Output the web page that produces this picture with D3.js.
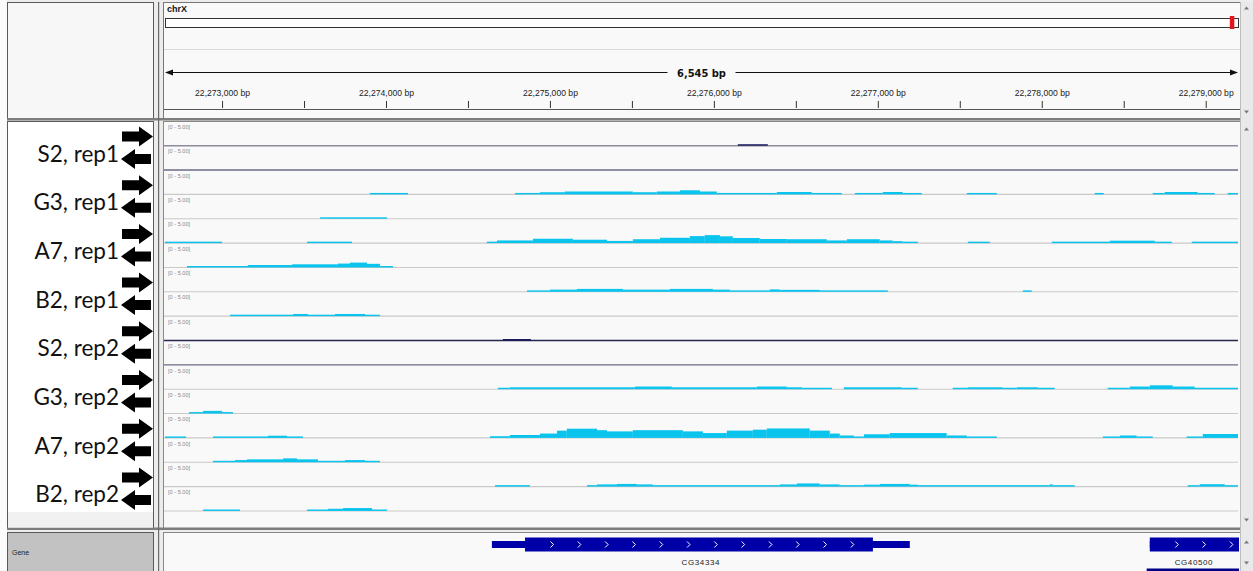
<!DOCTYPE html>
<html>
<head>
<meta charset="utf-8">
<script src="https://cdn.jsdelivr.net/npm/d3@7"></script>
<style>
  body { margin: 0; background: #fff; }
  svg { display: block; font-family: "Liberation Sans", Arial, sans-serif; }
</style>
</head>
<body>
<div id="igv"></div>
<script>
// locus shown and ruler
var chrName = "chrX";
var chrXLength = 22422827;
var viewStart = 22272652, viewEnd = 22279197;
var rulerTicks = [22273000, 22274000, 22275000, 22276000, 22277000, 22278000, 22279000];
var dataRange = [0, 5];

var samples = ["S2, rep1", "G3, rep1", "A7, rep1", "B2, rep1", "S2, rep2", "G3, rep2", "A7, rep2", "B2, rep2"];

// coverage, [start, end, value]
var s2r1Plus = [[22276146, 22276329, 0.3]];
var s2r1Minus = [];
var g3r1Plus = [
  [22273902, 22274134, 0.3], [22274787, 22274939, 0.3], [22274939, 22275091, 0.45],
  [22275091, 22275506, 0.6], [22275506, 22275652, 0.45], [22275652, 22275793, 0.6],
  [22275793, 22275915, 0.85], [22275915, 22276018, 0.6], [22276018, 22276384, 0.3],
  [22276384, 22276597, 0.5], [22276597, 22276780, 0.3], [22276860, 22277030, 0.3],
  [22277030, 22277152, 0.5], [22277152, 22277268, 0.3], [22277543, 22277726, 0.3],
  [22278323, 22278378, 0.3], [22278677, 22278750, 0.3], [22278750, 22278951, 0.5],
  [22278951, 22279055, 0.3], [22279134, 22279197, 0.3]
];
var g3r1Minus = [[22273598, 22274006, 0.3]];
var a7r1Plus = [
  [22272652, 22273000, 0.3], [22273518, 22273792, 0.3], [22274615, 22274677, 0.3],
  [22274677, 22274896, 0.55], [22274896, 22275140, 0.9], [22275140, 22275348, 0.7],
  [22275348, 22275506, 0.45], [22275506, 22275671, 0.8], [22275671, 22275854, 1.1],
  [22275854, 22275945, 1.45], [22275945, 22276037, 1.65], [22276037, 22276116, 1.4],
  [22276116, 22276280, 1.05], [22276280, 22276445, 0.85], [22276445, 22276689, 0.8],
  [22276689, 22276811, 0.55], [22276811, 22277012, 0.8], [22277012, 22277091, 0.55],
  [22277091, 22277152, 0.4], [22277152, 22277244, 0.3], [22277549, 22277683, 0.3],
  [22278061, 22278415, 0.3], [22278415, 22278689, 0.5], [22278689, 22278793, 0.3],
  [22278915, 22279197, 0.3]
];
var a7r1Minus = [
  [22272786, 22273158, 0.3], [22273158, 22273427, 0.5], [22273427, 22273707, 0.65],
  [22273707, 22273780, 0.8], [22273780, 22273884, 1.0], [22273884, 22273963, 0.75],
  [22273963, 22274043, 0.3]
];
var b2r1Plus = [
  [22274860, 22275000, 0.3], [22275000, 22275165, 0.45], [22275165, 22275445, 0.6],
  [22275445, 22275732, 0.45], [22275732, 22275994, 0.6], [22275994, 22276098, 0.45],
  [22276098, 22276341, 0.3], [22276341, 22276402, 0.5], [22276402, 22276646, 0.4],
  [22276646, 22277061, 0.3], [22277884, 22277939, 0.3]
];
var b2r1Minus = [
  [22273049, 22273433, 0.3], [22273433, 22273524, 0.45], [22273524, 22273689, 0.3],
  [22273689, 22273872, 0.45], [22273872, 22273963, 0.3]
];
var s2r2Plus = [[22274713, 22274884, 0.3]];
var s2r2Minus = [];
var g3r2Plus = [
  [22274683, 22274756, 0.3], [22274756, 22275518, 0.4], [22275518, 22275744, 0.55],
  [22275744, 22276262, 0.4], [22276262, 22276445, 0.55], [22276445, 22276537, 0.4],
  [22276537, 22276720, 0.3], [22276793, 22277146, 0.4], [22277146, 22277244, 0.3],
  [22277457, 22277549, 0.3], [22277549, 22277762, 0.4], [22277762, 22277848, 0.3],
  [22277848, 22277976, 0.4], [22277976, 22278079, 0.3], [22278402, 22278537, 0.3],
  [22278537, 22278659, 0.55], [22278659, 22278799, 0.8], [22278799, 22278933, 0.55],
  [22278933, 22279197, 0.3]
];
var g3r2Minus = [[22272798, 22272884, 0.3], [22272884, 22273000, 0.55], [22273000, 22273067, 0.3]];
var a7r2Plus = [
  [22272652, 22272780, 0.3], [22272945, 22273280, 0.3], [22273280, 22273396, 0.45],
  [22273396, 22273494, 0.3], [22274634, 22274756, 0.35], [22274756, 22274939, 0.6],
  [22274939, 22275043, 0.9], [22275043, 22275103, 1.5], [22275103, 22275287, 1.9],
  [22275287, 22275348, 1.6], [22275348, 22275506, 1.35], [22275506, 22275811, 1.6],
  [22275811, 22275933, 1.35], [22275933, 22276079, 1.0], [22276079, 22276238, 1.5],
  [22276238, 22276323, 1.7], [22276323, 22276585, 1.95], [22276585, 22276707, 1.5],
  [22276707, 22276768, 0.9], [22276768, 22276854, 0.5], [22276854, 22276915, 0.3],
  [22276915, 22277073, 0.75], [22277073, 22277420, 1.0], [22277420, 22277543, 0.5],
  [22277543, 22277726, 0.3], [22278372, 22278476, 0.3], [22278476, 22278579, 0.5],
  [22278579, 22278677, 0.3], [22278884, 22278982, 0.3], [22278982, 22279197, 0.8]
];
var a7r2Minus = [
  [22272945, 22273079, 0.3], [22273079, 22273152, 0.45], [22273152, 22273372, 0.6],
  [22273372, 22273457, 0.8], [22273457, 22273585, 0.6], [22273585, 22273750, 0.3],
  [22273750, 22273872, 0.45], [22273872, 22273963, 0.3]
];
var b2r2Plus = [
  [22274665, 22274878, 0.3], [22275226, 22275287, 0.3], [22275287, 22275409, 0.45],
  [22275409, 22275530, 0.55], [22275530, 22275628, 0.45], [22275628, 22276402, 0.3],
  [22276402, 22276506, 0.45], [22276506, 22276646, 0.65], [22276646, 22276768, 0.45],
  [22276768, 22276915, 0.3], [22276915, 22277012, 0.4], [22277012, 22277195, 0.55],
  [22277195, 22277244, 0.4], [22277244, 22278049, 0.3], [22278049, 22278067, 0.45],
  [22278067, 22278201, 0.3], [22278890, 22278963, 0.3], [22278963, 22279116, 0.5],
  [22279116, 22279197, 0.3]
];
var b2r2Minus = [
  [22272884, 22273110, 0.3], [22273518, 22273646, 0.3], [22273646, 22273738, 0.45],
  [22273738, 22273915, 0.6], [22273915, 22274006, 0.3]
];

// gene annotation
var geneNames = ["CG34334", "CG40500"];
var geneStarts = [22274646, 22278659];
var geneEnds = [22277195, 22279400];
var cdsStarts = [22274848, 22278659];
var cdsEnds = [22276970, 22279400];
var geneRow2Start = 22278640;

var tracks = [s2r1Plus, s2r1Minus, g3r1Plus, g3r1Minus, a7r1Plus, a7r1Minus, b2r1Plus, b2r1Minus,
  s2r2Plus, s2r2Minus, g3r2Plus, g3r2Minus, a7r2Plus, a7r2Minus, b2r2Plus, b2r2Minus];

var W = 1253, H = 571;
var dataLeft = 165, dataRight = 1238;
var trackTop0 = 121.5, trackStep = 24.35, trackH = 24.2;

var svg = d3.select("#igv").append("svg").attr("width", W).attr("height", H);

var x = d3.scaleLinear().domain([viewStart, viewEnd]).range([dataLeft, dataRight]);

// frame / panels
svg.append("rect").attr("width", W).attr("height", H).attr("fill", "#ececec");
svg.append("rect").attr("x", 0).attr("y", 0).attr("width", 7).attr("height", H).attr("fill", "#fbfbfb");

function panel(x0, y0, w, h, fill, stroke) {
  svg.append("rect").attr("x", x0 + 0.5).attr("y", y0 + 0.5).attr("width", w).attr("height", h)
    .attr("fill", fill).attr("stroke", stroke).attr("stroke-width", 1);
}
panel(7, 2, 146, 117, "#f7f7f7", "#5a5a5a");
panel(163, 2, 1077, 117, "#f9f9f9", "#777");
panel(7, 121, 146, 407, "#ffffff", "#5a5a5a");
panel(163, 121, 1077, 407, "#f9f9f9", "#888");
panel(7, 532, 146, 42, "#c2c2c2", "#5a5a5a");
panel(163, 532, 1077, 42, "#f9f9f9", "#888");

// heavy separators
svg.append("rect").attr("x", 7).attr("y", 118).attr("width", 1233).attr("height", 2.5).attr("fill", "#7d7d7d");
svg.append("rect").attr("x", 7).attr("y", 527.5).attr("width", 1233).attr("height", 2.5).attr("fill", "#7d7d7d");
svg.append("rect").attr("x", 158).attr("y", 2).attr("width", 1.2).attr("height", H).attr("fill", "#6a6a6a");

// scrollbar
svg.append("rect").attr("x", 1240).attr("y", 2).attr("width", 13).attr("height", H).attr("fill", "#e9e9e9");
svg.append("line").attr("x1", 1240.5).attr("x2", 1240.5).attr("y1", 2).attr("y2", H).attr("stroke", "#bdbdbd");
[[8, -1], [112, 1], [129, -1], [520, 1], [542, -1], [563, 1]].forEach(function (a) {
  var cx = 1246.5, cy = a[0], s = a[1];
  svg.append("path").attr("d", "M" + (cx - 2.5) + "," + (cy - 1.5 * s) + "L" + (cx + 2.5) + "," + (cy - 1.5 * s) + "L" + cx + "," + (cy + 1.5 * s) + "Z")
    .attr("fill", "#777");
});

// ---- header: ideogram + ruler ----
svg.append("text").attr("x", 167).attr("y", 12).attr("font-size", 9).attr("font-weight", "bold")
  .attr("fill", "#111").text(chrName);

var chrScale = d3.scaleLinear().domain([0, chrXLength]).range([dataLeft, dataRight]);
svg.append("rect").attr("x", dataLeft + 0.5).attr("y", 18.5).attr("width", dataRight - dataLeft).attr("height", 9)
  .attr("fill", "#fff").attr("stroke", "#333");
svg.append("rect").attr("x", chrScale(viewStart) - 1).attr("y", 16).attr("width", Math.max(4.5, chrScale(viewEnd) - chrScale(viewStart) + 2))
  .attr("height", 13).attr("fill", "#e3161b");
svg.append("line").attr("x1", 164).attr("x2", 1240).attr("y1", 49.5).attr("y2", 49.5).attr("stroke", "#dadada");

// span arrow
var spanY = 72.5;
svg.append("line").attr("x1", dataLeft + 2).attr("x2", dataRight - 2).attr("y1", spanY).attr("y2", spanY)
  .attr("stroke", "#111").attr("stroke-width", 1.2);
svg.append("path").attr("d", "M" + dataLeft + "," + spanY + "l8,-3l0,6Z").attr("fill", "#111");
svg.append("path").attr("d", "M" + dataRight + "," + spanY + "l-8,-3l0,6Z").attr("fill", "#111");
var spanLabel = d3.format(",")(viewEnd - viewStart) + " bp";
var midX = (dataLeft + dataRight) / 2;
svg.append("rect").attr("x", midX - 34).attr("y", spanY - 7).attr("width", 68).attr("height", 14).attr("fill", "#f9f9f9");
svg.append("text").attr("x", midX).attr("y", spanY + 4).attr("text-anchor", "middle")
  .attr("font-size", 11).attr("font-weight", "bold").attr("font-family", "'DejaVu Sans Condensed', 'Liberation Sans Narrow', sans-serif")
  .attr("fill", "#111").text(spanLabel);

var rulerAxis = d3.axisTop(x).tickValues(rulerTicks).tickSize(7).tickPadding(5)
  .tickFormat(function (d) { return d3.format(",")(d) + " bp"; });
var gRuler = svg.append("g").attr("transform", "translate(0,108)").call(rulerAxis);
gRuler.select(".domain").remove();
gRuler.selectAll("line").attr("stroke", "#333");
gRuler.selectAll("text").attr("font-size", 8.6).attr("font-family", "'Liberation Sans', Arial, sans-serif").attr("fill", "#222");

var minorTicks = rulerTicks.map(function (d) { return d + 500; }).filter(function (d) { return d < viewEnd; });
var gMinor = svg.append("g").attr("transform", "translate(0,108)")
  .call(d3.axisTop(x).tickValues(minorTicks).tickSize(7).tickFormat(""));
gMinor.select(".domain").remove();
gMinor.selectAll("line").attr("stroke", "#333");
svg.append("line").attr("x1", 164).attr("x2", 1240).attr("y1", 109.5).attr("y2", 109.5).attr("stroke", "#555");

// ---- coverage tracks ----
svg.append("clipPath").attr("id", "dataClip").append("rect")
  .attr("x", 164).attr("y", 0).attr("width", dataRight - 164 + 1).attr("height", H);
var gData = svg.append("g").attr("clip-path", "url(#dataClip)");

var baseColors = ["#8c8c9c", "#26264e", null, null, null, null, null, null,
  "#26264e", "#6c6c84", null, null, null, null, null, null];

tracks.forEach(function (data, i) {
  var top = trackTop0 + i * trackStep;
  var base = top + trackH;
  var y = d3.scaleLinear().domain(dataRange).range([base, top]);
  var isS2 = (i % 8) < 2;
  var bc = baseColors[i] || "#c9c9c9";

  gData.append("line").attr("x1", 164).attr("x2", dataRight).attr("y1", base).attr("y2", base)
    .attr("stroke", bc).attr("stroke-width", (i === 0 || i === 8) ? 1.6 : 1.1);

  gData.append("g").selectAll("rect").data(data).enter().append("rect")
    .attr("x", function (d) { return x(d[0]); })
    .attr("width", function (d) { return x(d[1]) - x(d[0]); })
    .attr("y", function (d) { return y(d[2]); })
    .attr("height", function (d) { return base - y(d[2]); })
    .attr("fill", isS2 ? "#14145a" : "#0bc4ee");

  svg.append("text").attr("x", 168).attr("y", top + 7.5).attr("font-size", 5.6).attr("fill", "#8a8a8a")
    .text("[" + dataRange[0] + " - " + dataRange[1].toFixed(2) + "]");
});

// ---- sample names with strand arrows ----
var groupStep = trackStep * 2;
svg.append("rect").attr("x", 8).attr("y", 512).attr("width", 145).attr("height", 15.5).attr("fill", "#f1f1f1");
samples.forEach(function (name, i) {
  var gTop = trackTop0 + i * groupStep;
  svg.append("text").attr("x", 119).attr("y", gTop + 40).attr("text-anchor", "end")
    .attr("font-family", "Lato, 'Open Sans', sans-serif").attr("font-size", 22.5).attr("fill", "#111")
    .text(name);
  var cr = gTop + 15, cl = gTop + 37.5;
  svg.append("path")
    .attr("d", "M122," + (cr - 5) + "H139V" + (cr - 10) + "L153," + cr + "L139," + (cr + 10) + "V" + (cr + 5) + "H122Z")
    .attr("fill", "#000");
  svg.append("path")
    .attr("d", "M151," + (cl - 5) + "H135V" + (cl - 10) + "L121," + cl + "L135," + (cl + 10) + "V" + (cl + 5) + "H151Z")
    .attr("fill", "#000");
});

// ---- gene track ----
svg.append("text").attr("x", 12).attr("y", 555).attr("font-size", 7).attr("fill", "#222").text("Gene");

var gGene = svg.append("g").attr("clip-path", "url(#dataClip)");
var geneY = 544.5;
geneNames.forEach(function (name, i) {
  gGene.append("rect").attr("x", x(geneStarts[i])).attr("y", geneY - 3.5)
    .attr("width", x(geneEnds[i]) - x(geneStarts[i])).attr("height", 7).attr("fill", "#0000a8");
  gGene.append("rect").attr("x", x(cdsStarts[i])).attr("y", geneY - 7)
    .attr("width", x(cdsEnds[i]) - x(cdsStarts[i])).attr("height", 14).attr("fill", "#0000a8");
  var x0 = x(cdsStarts[i]), x1 = Math.min(x(cdsEnds[i]), dataRight);
  d3.range(x0 + 27, x1 - 3, 27.3).forEach(function (cx) {
    gGene.append("path").attr("d", "M" + (cx - 1.5) + "," + (geneY - 3) + "L" + (cx + 1.5) + "," + geneY + "L" + (cx - 1.5) + "," + (geneY + 3))
      .attr("fill", "none").attr("stroke", "#fff").attr("stroke-width", 1);
  });
  var lx = (x(geneStarts[i]) + Math.min(x(geneEnds[i]), dataRight)) / 2;
  svg.append("text").attr("x", lx).attr("y", 565).attr("text-anchor", "middle")
    .attr("font-size", 8).attr("letter-spacing", 0.6).attr("fill", "#222").text(name);
});
gGene.append("rect").attr("x", x(geneRow2Start)).attr("y", 568.5).attr("width", dataRight - x(geneRow2Start) + 2)
  .attr("height", 3).attr("fill", "#000088");
</script>
</body>
</html>
